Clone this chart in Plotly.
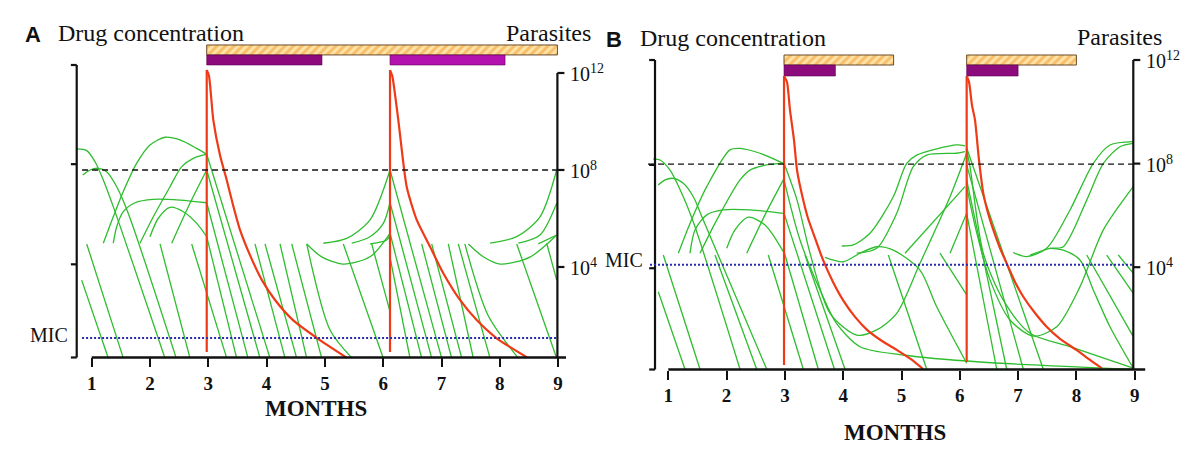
import plotly.graph_objects as go

# ---------------- data (months on x, log10 parasites on y) ----------------
MONTH_TICKS = [1, 2, 3, 4, 5, 6, 7, 8, 9]
PARASITE_TICKS = [4, 8, 12]
PARASITE_LABELS = ["10<sup>4</sup>", "10<sup>8</sup>", "10<sup>12</sup>"]

# Panel A ------------------------------------------------------------------
A_DOSE_MONTHS = [2.973, 6.117]
A_MIC_LEVEL = 1.07
A_THRESHOLD = 8.0
A_HATCH_BAR = (2.973, 8.988)            # start, end month
A_DRUG_BARS_START = [2.973, 6.117]
A_DRUG_BARS_END = [4.95, 8.09]

A_RED1_M = [2.973, 3.012, 3.086, 3.2, 3.316, 3.424, 3.544, 3.715, 3.92, 4.145, 4.453, 4.865, 5.38]
A_RED1_L = [12.12, 11.88, 10.06, 8.62, 7.59, 6.56, 5.53, 4.49, 3.46, 2.64, 1.81, 1.07, 0.25]
A_RED2_M = [6.117, 6.156, 6.259, 6.403, 6.575, 6.803, 7.031, 7.317, 7.604, 7.947, 8.461]
A_RED2_L = [12.12, 11.88, 10.06, 7.31, 5.94, 4.84, 3.74, 2.64, 1.81, 1.06, 0.28]
A_RED_BOTTOM = 0.49

# straight declines: (start month, start level, end month, end level)
A_LINES = [
    (0.828, 3.46, 1.285, 0.24), (0.914, 4.95, 1.542, 0.24),
    (2.172, 4.95, 2.686, 0.24), (2.715, 4.95, 3.316, 0.24),
    (2.973, 8.65, 4.058, 0.24), (2.973, 8.0, 3.887, 0.24),
    (2.973, 6.65, 3.681, 0.24), (2.973, 5.25, 3.487, 0.24),
    (3.801, 4.95, 4.316, 0.24), (3.973, 4.95, 4.516, 0.24),
    (4.230, 4.95, 4.688, 0.24), (4.431, 4.95, 4.945, 0.24),
    (5.316, 4.95, 6.002, 0.24), (5.803, 4.95, 6.117, 2.16),
    (6.117, 8.0, 7.003, 0.24), (6.117, 6.65, 6.832, 0.24),
    (6.117, 5.39, 6.660, 0.24), (6.117, 4.4, 6.460, 0.24),
    (6.660, 4.95, 7.174, 0.24), (6.832, 4.95, 7.347, 0.24),
    (7.117, 4.95, 7.546, 0.24), (7.288, 4.95, 7.832, 0.24),
    (8.290, 4.95, 8.976, 0.24), (8.804, 4.98, 8.976, 3.46),
]
A_CURVES = [
    ([0.743, 0.914, 1.057, 1.199, 1.370, 2.257], [8.87, 8.80, 8.34, 7.59, 6.49, 0.24]),
    ([0.846, 0.971, 1.113, 1.257, 1.429, 1.628, 2.45], [7.79, 8.0, 8.07, 7.93, 7.31, 6.21, 0.24]),
    ([1.199, 1.370, 1.542, 1.772, 2.0, 2.257, 2.515, 2.801, 2.973], [4.98, 6.07, 7.11, 8.28, 9.03, 9.35, 9.24, 8.89, 8.65]),
    ([1.370, 1.429, 1.542, 1.743, 2.057, 2.515, 2.973], [4.98, 5.66, 6.28, 6.65, 6.79, 6.76, 6.65]),
    ([1.828, 2.057, 2.343, 2.544, 2.743, 2.973], [4.98, 6.07, 7.31, 8.14, 8.48, 8.65]),
    ([2.372, 2.686, 2.973], [4.98, 6.63, 8.0]),
    ([2.0, 2.142, 2.343, 2.571, 2.801, 2.973], [5.25, 6.01, 6.46, 6.28, 5.80, 5.25]),
    ([4.688, 5.088, 5.465], [4.95, 1.40, 0.24]),
    ([4.688, 4.945, 5.316, 5.774, 6.117], [4.95, 4.42, 4.12, 4.42, 5.39]),
    ([4.973, 5.374, 5.774, 6.117], [4.98, 5.18, 5.94, 8.0]),
    ([5.460, 5.774, 6.002, 6.117], [4.98, 5.25, 5.80, 6.65]),
    ([5.774, 6.06, 6.117], [4.95, 5.11, 5.32]),
    ([7.40, 7.80, 8.317], [4.95, 2.0, 0.24]),
    ([7.460, 7.717, 8.003, 8.517, 8.976], [4.95, 4.42, 4.12, 4.41, 5.32]),
    ([7.832, 8.290, 8.690, 8.976], [4.98, 5.25, 6.07, 8.0]),
    ([8.317, 8.690, 8.976], [4.98, 5.32, 6.63]),
    ([8.66, 8.976], [4.95, 5.32]),
]

# Panel B ------------------------------------------------------------------
B_DOSE_MONTHS = [2.985, 6.118]
B_MIC_LEVEL = 4.09
B_THRESHOLD = 7.98
B_HATCH_BARS_START = [2.985, 6.118]
B_HATCH_BARS_END = [4.865, 8.0]
B_DRUG_BARS_START = [2.985, 6.118]
B_DRUG_BARS_END = [3.866, 7.0]

B_RED1_M = [2.985, 3.036, 3.087, 3.156, 3.208, 3.294, 3.395, 3.516, 3.654, 3.825, 3.997, 4.203, 4.409, 4.666, 4.923, 5.18, 5.369]
B_RED1_L = [11.38, 11.15, 10.07, 8.91, 7.75, 6.79, 5.90, 5.13, 4.28, 3.43, 2.73, 2.08, 1.58, 1.15, 0.80, 0.42, 0.07]
B_RED2_M = [6.118, 6.158, 6.209, 6.261, 6.329, 6.403, 6.484, 6.575, 6.689, 6.804, 6.947, 7.089, 7.29, 7.49, 7.719, 8.005, 8.233, 8.434]
B_RED2_L = [11.38, 11.15, 10.26, 9.68, 8.14, 6.85, 6.09, 5.44, 4.74, 4.15, 3.43, 2.86, 2.23, 1.70, 1.23, 0.80, 0.42, 0.10]
B_RED_BOTTOMS = [0.22, 0.34]

B_LINES = [
    (0.914, 4.47, 1.544, 0.06), (0.828, 3.05, 1.286, 0.06),
    (1.801, 4.47, 2.516, 0.06), (2.715, 4.47, 3.316, 0.06),
    (2.985, 6.08, 3.85, 0.06), (2.985, 4.60, 3.573, 0.06),
    (3.345, 4.47, 4.031, 0.06), (4.774, 4.47, 5.432, 0.06),
    (5.660, 4.54, 6.118, 2.93),
    (6.118, 6.08, 6.633, 0.06), (6.118, 7.37, 6.804, 0.06),
    (6.118, 7.95, 7.089, 0.06), (6.118, 8.60, 7.432, 0.06),
    (8.177, 4.47, 8.976, 1.32), (8.520, 4.47, 8.976, 2.99),
    (8.719, 4.47, 8.976, 3.76),
]
B_CURVES = [
    ([0.743, 0.858, 1.029, 1.257, 1.458, 2.23], [8.17, 8.14, 7.75, 6.72, 5.56, 0.06]),
    ([0.828, 0.943, 1.086, 1.257, 1.429, 1.600, 2.688], [7.17, 7.37, 7.43, 7.24, 6.72, 5.82, 0.06]),
    ([1.172, 1.372, 1.659, 2.058, 2.230, 2.573, 2.973], [4.54, 5.69, 7.11, 8.53, 8.59, 8.40, 8.01]),
    ([1.372, 1.458, 1.659, 1.943, 2.401, 2.973], [4.54, 5.44, 6.02, 6.21, 6.21, 6.08]),
    ([1.544, 1.830, 2.230, 2.401, 2.688, 2.973], [4.54, 5.82, 7.37, 7.75, 7.95, 8.01]),
    ([2.002, 2.144, 2.372, 2.659, 2.973], [4.73, 5.44, 5.93, 5.63, 4.60]),
    ([2.345, 2.659, 2.973], [4.54, 6.02, 7.37]),
    ([2.985, 3.208, 3.431, 3.774, 4.232, 4.575, 4.918, 5.317, 5.832, 6.118], [8.01, 6.59, 4.54, 2.22, 1.38, 1.58, 2.22, 4.15, 6.72, 8.40]),
    ([2.985, 3.259, 3.654, 3.884, 4.288, 5.031, 6.347, 8.976], [7.37, 5.05, 2.86, 1.83, 0.93, 0.61, 0.34, 0.06]),
    ([3.974, 4.173, 4.460, 4.859, 5.089, 5.261, 5.947, 6.089], [4.82, 4.86, 5.31, 6.72, 8.01, 8.33, 8.72, 8.68]),
    ([4.232, 4.575, 4.918, 5.202, 5.432, 5.947, 6.089], [4.54, 4.73, 6.08, 7.88, 8.33, 8.40, 8.46]),
    ([3.688, 4.002, 4.288, 4.575, 4.859, 5.317, 5.604, 6.118], [4.38, 4.21, 4.54, 4.79, 4.66, 3.89, 2.47, 0.29]),
    ([5.060, 6.089], [4.54, 7.11]),
    ([5.832, 6.118], [4.54, 6.08]),
    ([6.118, 6.175, 6.403, 6.746, 7.204, 7.890, 8.976], [8.53, 7.88, 4.54, 2.73, 1.45, 0.93, 0.10]),
    ([6.118, 6.278, 6.518, 6.861, 7.261, 7.662, 8.062, 8.462, 8.976], [7.11, 5.44, 3.51, 1.96, 1.34, 1.70, 3.25, 5.44, 7.11]),
    ([6.918, 7.147, 7.490, 7.890, 8.290, 8.576, 8.976], [4.56, 4.41, 4.73, 6.21, 8.01, 8.72, 8.85]),
    ([7.204, 7.547, 7.775, 8.177, 8.462, 8.748, 8.976], [4.47, 4.73, 4.79, 6.59, 8.01, 8.65, 8.78]),
    ([7.547, 7.775, 8.062, 8.290, 8.576, 8.976], [4.73, 4.66, 4.28, 3.12, 1.70, 0.10]),
]

# ---------------- styling ----------------
GREEN = "#2EBD2E"
RED = "#EE3A17"
BLACK = "#111111"
SERIF = "Liberation Serif"
HATCH_BG = "#FFE3A6"
HATCH_FG = "#EE9A30"

fig = go.Figure()


def add_panel(xa, ya, lines, curves, red_curves, dose_months, red_bottoms, red_top):
    xs, ys = [], []
    for m0, l0, m1, l1 in lines:
        xs += [m0, m1, None]
        ys += [l0, l1, None]
    fig.add_trace(go.Scatter(x=xs, y=ys, mode="lines", xaxis=xa, yaxis=ya,
                             line=dict(color=GREEN, width=1.3), hoverinfo="skip"))
    for ms, ls in curves:
        fig.add_trace(go.Scatter(x=ms, y=ls, mode="lines", xaxis=xa, yaxis=ya,
                                 line=dict(color=GREEN, width=1.3, shape="spline", smoothing=0.8),
                                 hoverinfo="skip"))
    for d, b in zip(dose_months, red_bottoms):
        fig.add_trace(go.Scatter(x=[d, d], y=[b, red_top], mode="lines", xaxis=xa, yaxis=ya,
                                 line=dict(color=RED, width=2.2), hoverinfo="skip"))
    for ms, ls in red_curves:
        fig.add_trace(go.Scatter(x=ms, y=ls, mode="lines", xaxis=xa, yaxis=ya,
                                 line=dict(color=RED, width=2.2, shape="spline", smoothing=0.6),
                                 hoverinfo="skip"))


def add_axes(xa, ya, left_x, right_x, bottom, left_top, right_top, left_ticks, axis_end,
             dash_x0, mic_x0, threshold, mic):
    k = dict(xaxis=xa, yaxis=ya, mode="lines", hoverinfo="skip")
    xs = [left_x, left_x, None]
    ys = [bottom, left_top, None]
    for t in left_ticks:
        xs += [left_x - 0.1, left_x, None]
        ys += [t, t, None]
    fig.add_trace(go.Scatter(x=xs, y=ys, line=dict(color=BLACK, width=2.2), **k))
    xs = [right_x, right_x, None]
    ys = [bottom, right_top, None]
    for t in PARASITE_TICKS:
        xs += [right_x, right_x + 0.12, None]
        ys += [t, t, None]
    fig.add_trace(go.Scatter(x=xs, y=ys, line=dict(color=BLACK, width=2.2), **k))
    fig.add_trace(go.Scatter(x=[1, axis_end], y=[bottom, bottom], line=dict(color=BLACK, width=2.4), **k))
    fig.add_trace(go.Scatter(x=[dash_x0, right_x], y=[threshold, threshold],
                             line=dict(color=BLACK, width=1.3, dash="6px,4px"), **k))
    fig.add_trace(go.Scatter(x=[mic_x0, right_x], y=[mic, mic],
                             line=dict(color="#2A2AB0", width=2, dash="2px,2px"), **k))


# Panel A
add_panel("x", "y", A_LINES, A_CURVES, [(A_RED1_M, A_RED1_L), (A_RED2_M, A_RED2_L)],
          A_DOSE_MONTHS, [A_RED_BOTTOM, A_RED_BOTTOM], 12.12)
add_axes("x", "y", 0.743, 8.988, 0.268, 12.33, 12.0, [12.33, 8.24, 4.11, 0.268], 9.136,
         0.835, 0.835, A_THRESHOLD, A_MIC_LEVEL)
# Panel B
add_panel("x2", "y2", B_LINES, B_CURVES, [(B_RED1_M, B_RED1_L), (B_RED2_M, B_RED2_L)],
          B_DOSE_MONTHS, B_RED_BOTTOMS, 11.38)
add_axes("x2", "y2", 0.772, 8.976, 0.05, 12.0, 12.0, [12.0, 7.95, 3.96, 0.05], 9.18,
         0.652, 0.686, B_THRESHOLD, B_MIC_LEVEL)

# Bars (hatched treatment bars and drug bars)
pattern = dict(shape="/", fgcolor=HATCH_FG, bgcolor=HATCH_BG, size=6, solidity=0.5)
fig.add_trace(go.Bar(orientation="h", base=[A_HATCH_BAR[0]], x=[A_HATCH_BAR[1] - A_HATCH_BAR[0]],
                     y=[12.95], width=[0.41], xaxis="x", yaxis="y",
                     marker=dict(color=HATCH_BG, pattern=pattern, line=dict(color="#6B4A2A", width=1)),
                     hoverinfo="skip"))
fig.add_trace(go.Bar(orientation="h", base=A_DRUG_BARS_START,
                     x=[e - s for s, e in zip(A_DRUG_BARS_START, A_DRUG_BARS_END)],
                     y=[12.536, 12.536], width=[0.41, 0.41], xaxis="x", yaxis="y",
                     marker=dict(color=["#8C0A7C", "#B412AE"], line=dict(color="#5A0050", width=0.6)),
                     hoverinfo="skip"))
fig.add_trace(go.Bar(orientation="h", base=B_HATCH_BARS_START,
                     x=[e - s for s, e in zip(B_HATCH_BARS_START, B_HATCH_BARS_END)],
                     y=[12.0, 12.0], width=[0.386, 0.386], xaxis="x2", yaxis="y2",
                     marker=dict(color=HATCH_BG, pattern=pattern, line=dict(color="#6B4A2A", width=1)),
                     hoverinfo="skip"))
fig.add_trace(go.Bar(orientation="h", base=B_DRUG_BARS_START,
                     x=[e - s for s, e in zip(B_DRUG_BARS_START, B_DRUG_BARS_END)],
                     y=[11.595, 11.595], width=[0.425, 0.425], xaxis="x2", yaxis="y2",
                     marker=dict(color=["#8C0A7C", "#8C0A7C"], line=dict(color="#5A0050", width=0.6)),
                     hoverinfo="skip"))

# ---------------- annotations ----------------
ann = []
serif = dict(family=SERIF, color=BLACK)
for xr, yr, rx in [("x", "y", 8.988), ("x2", "y2", 8.976)]:
    for t, lab in zip(PARASITE_TICKS, PARASITE_LABELS):
        ann.append(dict(x=rx, y=t, xref=xr, yref=yr, text=lab, showarrow=False, xanchor="left",
                        xshift=11, font=dict(size=20, **serif)))
ann.append(dict(x=0.628, y=A_MIC_LEVEL, xref="x", yref="y", text="MIC", showarrow=False,
                xanchor="right", yshift=3, font=dict(size=20, **serif)))
ann.append(dict(x=0.60, y=B_MIC_LEVEL, xref="x2", yref="y2", text="MIC", showarrow=False,
                xanchor="right", yshift=5, font=dict(size=20, **serif)))
for x, y, txt, anchor, fnt in [
    (0.0275, 0.925, "<b>A</b>", "center", dict(family="Liberation Sans", size=22, color=BLACK)),
    (0.047, 0.927, "Drug concentration", "left", dict(size=24, **serif)),
    (0.494, 0.927, "Parasites", "right", dict(size=24, **serif)),
    (0.5117, 0.914, "<b>B</b>", "center", dict(family="Liberation Sans", size=22, color=BLACK)),
    (0.532, 0.916, "Drug concentration", "left", dict(size=24, **serif)),
    (0.970, 0.918, "Parasites", "right", dict(size=24, **serif)),
    (0.2633, 0.103, "<b>MONTHS</b>", "center", dict(size=23, **serif)),
    (0.7458, 0.050, "<b>MONTHS</b>", "center", dict(size=23, **serif)),
]:
    ann.append(dict(x=x, y=y, xref="paper", yref="paper", text=txt, showarrow=False,
                    xanchor=anchor, yanchor="middle", font=fnt))

xcommon = dict(tickvals=MONTH_TICKS, ticktext=[f"<b>{m}</b>" for m in MONTH_TICKS],
               ticks="outside", ticklen=9, tickwidth=2.2, tickcolor=BLACK,
               tickfont=dict(family=SERIF, size=19, color=BLACK),
               showgrid=False, zeroline=False, showline=False, anchor="free", fixedrange=True)

fig.update_layout(
    width=1200, height=455, margin=dict(l=0, r=0, t=0, b=0),
    paper_bgcolor="white", plot_bgcolor="white", showlegend=False, barmode="overlay",
    xaxis=dict(domain=[0, 0.5], range=[-0.5729, 9.7187], position=0.2143, **xcommon),
    yaxis=dict(domain=[0, 1], range=[-3.753, 15.010], visible=False, anchor="x", fixedrange=True),
    xaxis2=dict(domain=[0.5, 1], range=[-0.1715, 10.120], position=0.1879, **xcommon),
    yaxis2=dict(domain=[0, 1], range=[-3.251, 14.317], visible=False, anchor="x2", fixedrange=True),
    annotations=ann,
)

fig.write_html("out.html", config={"displayModeBar": False},
               post_script="document.body.style.margin='0px';")
